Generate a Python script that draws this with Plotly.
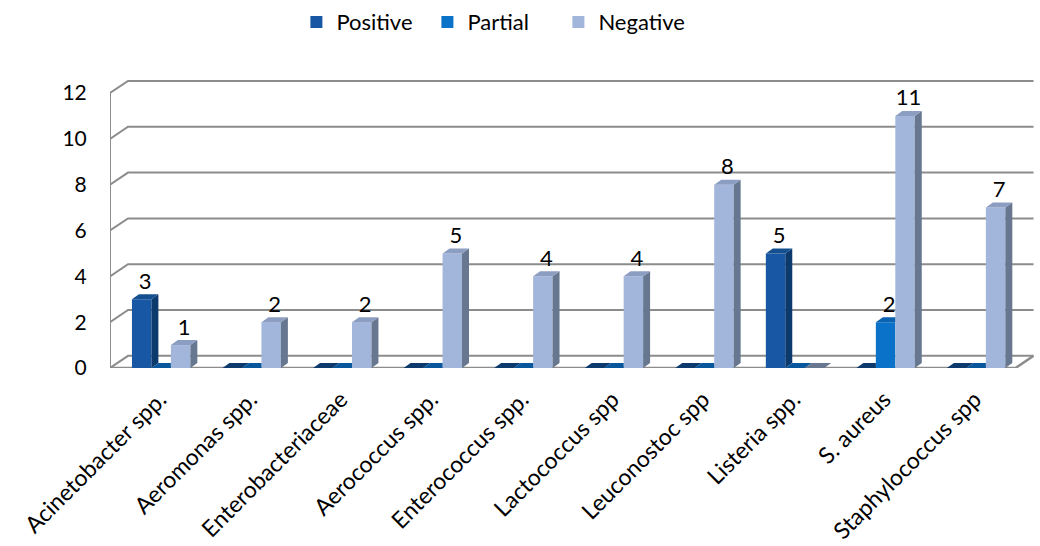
import plotly.graph_objects as go

# ---- data -------------------------------------------------------------
categories = ["Acinetobacter spp.", "Aeromonas spp.", "Enterobacteriaceae",
              "Aerococcus spp.", "Enterococcus spp.", "Lactococcus spp",
              "Leuconostoc spp", "Listeria spp.", "S. aureus",
              "Staphylococcus spp"]
positive = [3, 0, 0, 0, 0, 0, 0, 5, 0, 0]
partial = [0, 0, 0, 0, 0, 0, 0, 0, 2, 0]
negative = [1, 2, 2, 5, 4, 4, 8, 0, 11, 7]
y_ticks = [0, 2, 4, 6, 8, 10, 12]

# ---- styling ----------------------------------------------------------
FONT = "Lato"
series = [
    # name, values, front colour, side colour, top colour
    ("Positive", positive, "#1757A4", "#0D3A6D", "#14508F"),
    ("Partial", partial, "#0B72C9", "#08579C", "#0A62B0"),
    ("Negative", negative, "#A2B5DB", "#67778F", "#8C9DC2"),
]
offsets = [-0.15, 0.065, 0.28]   # bar centres relative to category centre
BAR_W = 0.215
DX, DY = 0.077, 0.22            # bar depth projection (data units)
WX, WY = 0.199, 0.53            # wall / floor depth projection
GRID = "#8C8C8C"

n = len(categories)
fig = go.Figure()

# front faces
for (name, vals, front, side, top), off in zip(series, offsets):
    fig.add_trace(go.Bar(
        x=[i + off for i in range(n)], y=vals, width=BAR_W, name=name,
        marker=dict(color=front, line=dict(width=0)), hoverinfo="skip"))

# side and top faces, drawn left to right
for i in range(n):
    for j, ((name, vals, front, side, top), off) in enumerate(zip(series, offsets)):
        v = vals[i]
        xl = i + off - BAR_W / 2
        xr = i + off + BAR_W / 2
        nv = series[j + 1][1][i] if j + 1 < len(series) else 0
        # side face, hidden behind the right neighbour up to its height
        if v > nv:
            fig.add_trace(go.Scatter(
                x=[xr, xr + DX, xr + DX, xr, xr],
                y=[nv, nv + DY, v + DY, v, nv],
                fill="toself", fillcolor=side, mode="lines",
                line=dict(width=0, color=side), showlegend=False,
                hoverinfo="skip"))
        # top face
        if nv > v:
            tx = [xl, xr, xr, xl + DX, xl]
            ty = [v, v, v + DY, v + DY, v]
        else:
            tx = [xl, xr, xr + DX, xl + DX, xl]
            ty = [v, v, v + DY, v + DY, v]
        fig.add_trace(go.Scatter(
            x=tx, y=ty, fill="toself", fillcolor=top if v > 0 else side,
            mode="lines", line=dict(width=0, color=top), showlegend=False,
            hoverinfo="skip"))

# value labels above non-zero bars
lx, ly, lt = [], [], []
for (name, vals, *_), off in zip(series, offsets):
    for i, v in enumerate(vals):
        if v > 0:
            lx.append(i + off + DX / 2)
            ly.append(v + DY)
            lt.append(str(v))
fig.add_trace(go.Scatter(
    x=lx, y=ly, text=lt, mode="text", textposition="top center",
    textfont=dict(family=FONT, size=22, color="black"),
    showlegend=False, hoverinfo="skip", cliponaxis=False))

# back wall gridlines with the left-side diagonals
x0, x1 = -0.5, n - 0.5
shapes = []
for v in y_ticks:
    shapes.append(dict(
        type="path", layer="below", xref="x", yref="y",
        path=f"M {x0},{v} L {x0 + WX},{v + WY} L {x1 + WX},{v + WY}",
        line=dict(color=GRID, width=2)))
# front left edge of the side wall
shapes.append(dict(type="line", layer="below", xref="x", yref="y",
                   x0=x0, y0=0, x1=x0, y1=y_ticks[-1],
                   line=dict(color=GRID, width=2)))
# floor front and right edges
shapes.append(dict(type="path", layer="below", xref="x", yref="y",
                   path=f"M {x0},0 L {x1},0 L {x1 + WX},{WY}",
                   line=dict(color=GRID, width=2.5)))

fig.update_layout(
    width=1040, height=546,
    margin=dict(l=110, r=6, t=77, b=178, autoexpand=False),
    paper_bgcolor="white", plot_bgcolor="white",
    barmode="overlay", shapes=shapes,
    font=dict(family=FONT, size=20, color="black"),
    legend=dict(orientation="h", xref="container", x=0.285, xanchor="left",
                yref="container", y=0.998, yanchor="top",
                entrywidth=86, entrywidthmode="pixels",
                font=dict(family=FONT, size=22, color="black"),
                traceorder="normal"),
    xaxis=dict(range=[x0, x1 + WX + 0.005], tickmode="array",
               tickvals=[i + 0.05 for i in range(n)], ticktext=categories,
               tickangle=-45, showgrid=False, zeroline=False, showline=False,
               automargin=False,
               ticks="outside", ticklen=8, tickcolor="rgba(0,0,0,0)",
               tickfont=dict(family=FONT, size=23, color="black")),
    yaxis=dict(range=[0, 12.7], tickmode="array", tickvals=y_ticks,
               showgrid=False, zeroline=False, showline=False,
               automargin=False,
               ticks="outside", ticklen=18, tickcolor="rgba(0,0,0,0)",
               tickfont=dict(family=FONT, size=21, color="black")),
)

fig.write_html("out.html")
